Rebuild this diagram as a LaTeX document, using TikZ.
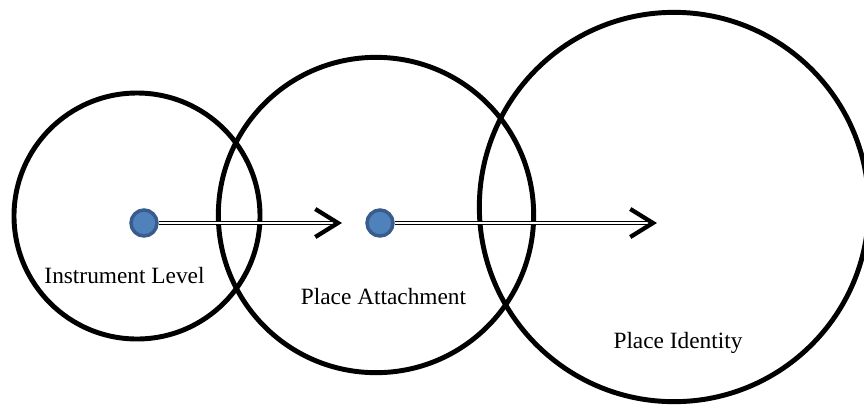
\documentclass[tikz,border=0pt]{standalone}
\usepackage{fontspec}
\setmainfont{Liberation Serif}
\usetikzlibrary{arrows.meta}
\definecolor{dotfill}{HTML}{4F81BD}
\definecolor{dotline}{HTML}{385D8A}
\tikzset{
  ring/.style={draw=black, line width=3.7pt, circle, inner sep=0pt},
  dotnode/.style={circle, fill=dotfill, draw=dotline, line width=2.6pt, minimum size=19.5pt, inner sep=0pt},
  dblarrow/.style={double=white, double distance=1.7pt, line width=0.75pt, draw=black,
    -{Straight Barb[length=17pt, width=21pt, line width=3.2pt]}},
  lbl/.style={font=\fontsize{17.5}{20}\selectfont, inner sep=0pt}
}
\begin{document}
\begin{tikzpicture}[x=0.75pt, y=-0.75pt]
\useasboundingbox (0,0) rectangle (864,405);
\begin{scope}
\clip (0,0) rectangle (864,405);
\node[ring, minimum size=184.5pt] (c1) at (137,216) {};
\node[ring, minimum size=236.5pt] (c2) at (376,215) {};
\node[ring, minimum size=292pt] (c3) at (674,207) {};
\end{scope}
\node[dotnode] (d1) at (144,223) {};
\node[dotnode] (d2) at (380,223) {};
\coordinate (t1) at (342,223);
\coordinate (t2) at (657,223);
\draw[dblarrow] (d1.east) -- (t1);
\draw[dblarrow] (d2.east) -- (t2);
\node[lbl] (l1) at (124.5,276) {Instrument Level};
\node[lbl] (l2) at (383.5,297) {Place Attachment};
\node[lbl] (l3) at (678,343) {Place Identity};
\end{tikzpicture}
\end{document}
